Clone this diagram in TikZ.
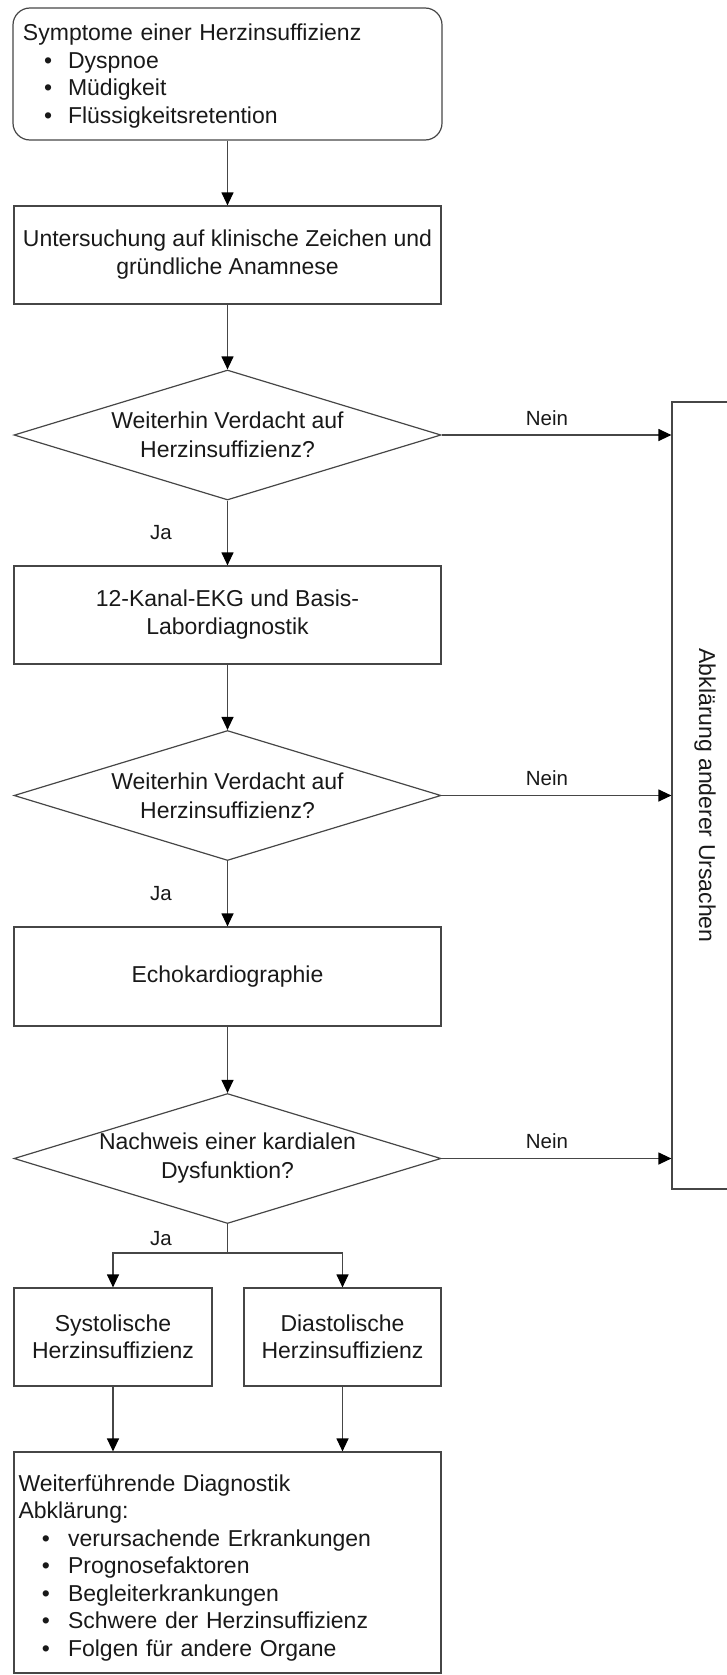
\documentclass[tikz,border=0pt]{standalone}
\usepackage{fontspec}
\setmainfont{Liberation Sans}
\usetikzlibrary{shapes.geometric,arrows.meta}
\definecolor{linec}{RGB}{70,70,70}
\definecolor{txtc}{RGB}{25,25,25}
\begin{document}
\begin{tikzpicture}[x=1pt,y=-1pt,
  every node/.style={text=txtc},
  box/.style={draw=linec, line width=1.2pt, rectangle, align=center, inner xsep=3pt, font=\fontsize{23}{28}\selectfont},
  dec/.style={draw=linec, line width=1.2pt, diamond, aspect=3.28, inner sep=0pt, minimum width=427pt, minimum height=130pt, align=center, font=\fontsize{23}{29}\selectfont},
  arr/.style={draw=linec, line width=1.2pt, -{Triangle[length=13pt,width=12pt,color=black]}},
  lab/.style={font=\fontsize{20.5}{24}\selectfont, inner sep=0pt}]
\useasboundingbox (0,0) rectangle (727,1675);
\clip (0,0) rectangle (727,1675);

\node[box, rounded corners=17pt, minimum height=132pt, align=left, text width=409pt, inner xsep=10pt, font=\fontsize{23}{27.5}\selectfont] (top) at (227.5,74)
 {\rule{0pt}{21pt}Symptome einer Herzinsuffizienz\\
  \hspace*{21pt}•\hspace{16pt}Dyspnoe\\
  \hspace*{21pt}•\hspace{16pt}Müdigkeit\\
  \hspace*{21pt}•\hspace{16pt}Flüssigkeitsretention};

\node[box, minimum width=427pt, minimum height=98pt] (b2) at (227.5,255)
 {Untersuchung auf klinische Zeichen und\\ gründliche Anamnese};
\node[dec] (d1) at (227.5,435) {Weiterhin Verdacht auf\\ Herzinsuffizienz?};
\node[box, minimum width=427pt, minimum height=98pt] (b3) at (227.5,615)
 {12-Kanal-EKG und Basis-\\ Labordiagnostik};
\node[dec] (d2) at (227.5,795.5) {Weiterhin Verdacht auf\\ Herzinsuffizienz?};
\node[box, minimum width=427pt, minimum height=99pt] (b4) at (227.5,976.5) {Echokardiographie};
\node[dec] (d3) at (227.5,1158.5) {Nachweis einer kardialen\\ Dysfunktion?};
\coordinate (sp) at (227.5,1253);
\node[box, minimum width=198pt, minimum height=98pt, font=\fontsize{23}{27}\selectfont] (s1) at (113,1337) {Systolische\\ Herzinsuffizienz};
\node[box, minimum width=197pt, minimum height=98pt, font=\fontsize{23}{27}\selectfont] (s2) at (342.5,1337) {Diastolische\\ Herzinsuffizienz};
\node[box, minimum height=221pt, align=left, text width=418pt, inner xsep=4.5pt, font=\fontsize{23}{27.5}\selectfont] (big) at (227.5,1562.5)
 {\rule{0pt}{27pt}Weiterführende Diagnostik\\
  Abklärung:\\
  \hspace*{23.5pt}•\hspace{18pt}verursachende Erkrankungen\\
  \hspace*{23.5pt}•\hspace{18pt}Prognosefaktoren\\
  \hspace*{23.5pt}•\hspace{18pt}Begleiterkrankungen\\
  \hspace*{23.5pt}•\hspace{18pt}Schwere der Herzinsuffizienz\\
  \hspace*{23.5pt}•\hspace{18pt}Folgen für andere Organe};
\node[box, rotate=-90, minimum width=787pt, minimum height=66pt] (r) at (705,795.5) {Abklärung anderer Ursachen};

\draw[arr] (top.south) -- (b2.north);
\draw[arr] (b2.south) -- (d1.north);
\draw[arr] (d1.south) -- (b3.north) node[lab, midway, xshift=-66.5pt] {Ja};
\draw[arr] (b3.south) -- (d2.north);
\draw[arr] (d2.south) -- (b4.north) node[lab, midway, xshift=-66.5pt] {Ja};
\draw[arr] (b4.south) -- (d3.north);
\draw[draw=linec, line width=1.2pt] (d3.south) -- (sp) node[lab, midway, xshift=-66.5pt] {Ja};
\draw[arr] (sp) -| (s1.north);
\draw[arr] (sp) -| (s2.north);
\draw[arr] (s1.south) -- (s1.south |- big.north);
\draw[arr] (s2.south) -- (s2.south |- big.north);
\draw[arr] (d1.east) -- (d1.east -| r.south) node[lab, midway, xshift=-9.5pt, yshift=17pt] {Nein};
\draw[arr] (d2.east) -- (d2.east -| r.south) node[lab, midway, xshift=-9.5pt, yshift=17pt] {Nein};
\draw[arr] (d3.east) -- (d3.east -| r.south) node[lab, midway, xshift=-9.5pt, yshift=17pt] {Nein};
\end{tikzpicture}
\end{document}
